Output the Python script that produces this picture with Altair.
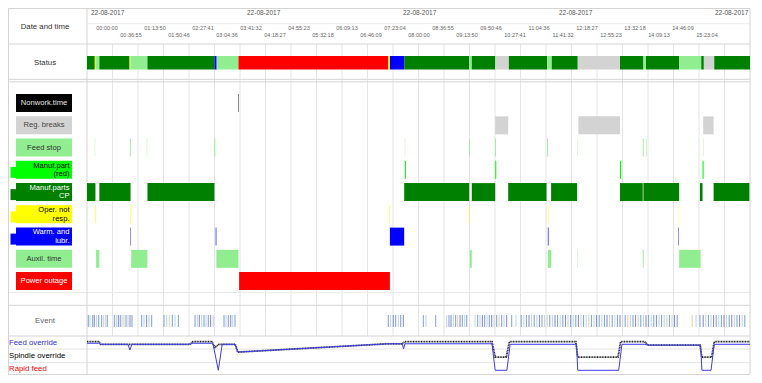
import altair as alt
import pandas as pd

# ---------------------------------------------------------------- data
ROWS = ["Nonwork.time", "Reg. breaks", "Feed stop", "Manuf.part (red)", "Manuf.parts CP",
        "Oper. not resp.", "Warm. and lubr.", "Auxil. time", "Power outage"]
ROW_TEXT = ["Nonwork.time", "Reg. breaks", "Feed stop", "Manuf.part\n(red)", "Manuf.parts\nCP",
            "Oper. not\nresp.", "Warm. and\nlubr.", "Auxil. time", "Power outage"]
ROW_COLORS = ["#000000", "#d3d3d3", "#90ee90", "#00ff00", "#008000",
              "#ffff00", "#0000ff", "#90ee90", "#ff0000"]
ROW_TEXT_COLORS = ["#e8e8e8", "#444444", "#333333", "#000000", "#ffffff",
                   "#000000", "#ffffff", "#333333", "#ffffff"]
ROW_RIGHT_ALIGNED = ["Manuf.part (red)", "Manuf.parts CP", "Oper. not resp.", "Warm. and lubr."]

DATE_TEXT = "22-08-2017"
DATE_TICKS = ["00:00:00", "04:00:00", "08:00:00", "12:00:00", "16:00:00"]
TIME_LABELS = ["00:00:00", "00:36:55", "01:13:50", "01:50:46", "02:27:41", "03:04:36",
               "03:41:32", "04:18:27", "04:55:23", "05:32:18", "06:09:13", "06:46:09",
               "07:23:04", "08:00:00", "08:36:55", "09:13:50", "09:50:46", "10:27:41",
               "11:04:36", "11:41:32", "12:18:27", "12:55:23", "13:32:18", "14:09:13",
               "14:46:09", "15:23:04"]
DAY_END = "17:00:00"

# status bar: segment start times and states (each segment ends where the next begins)
STATUS_START = ["00:00", "00:12", "00:13:30", "00:19", "01:05:30", "01:07", "01:33", "03:16",
                "03:19:30", "03:53", "07:43:30", "07:46", "08:08", "09:48", "09:52", "10:28",
                "10:29", "10:49", "11:48", "11:55", "12:35", "13:40", "14:16", "14:20",
                "15:11", "15:45", "15:49", "16:05"]
STATUS_STATE = ["Manuf.parts CP", "Oper. not resp.", "Auxil. time", "Manuf.parts CP",
                "Oper. not resp.", "Auxil. time", "Manuf.parts CP", "Warm. and lubr.",
                "Auxil. time", "Power outage", "Oper. not resp.", "Warm. and lubr.",
                "Manuf.parts CP", "Auxil. time", "Manuf.parts CP", "Feed stop",
                "Reg. breaks", "Manuf.parts CP", "Auxil. time", "Manuf.parts CP",
                "Reg. breaks", "Manuf.parts CP", "Auxil. time", "Manuf.parts CP",
                "Auxil. time", "Manuf.parts CP", "Reg. breaks", "Manuf.parts CP"]

NONWORK = [("03:52:40", "03:53:20")]
REG_BREAKS = [("10:28", "10:48"), ("12:36", "13:40"), ("15:48", "16:04")]
FEED_STOP = [("00:12:00", "00:12:30"), ("01:06:00", "01:07:20"), ("01:32:00", "01:32:30"),
             ("03:16:00", "03:17:20"), ("08:09:00", "08:09:30"), ("09:48:00", "09:49:20"),
             ("10:28:00", "10:29:20"), ("11:48:00", "11:49:20"), ("12:34:00", "12:34:30"),
             ("14:15:00", "14:16:20"), ("14:20:00", "14:20:40"), ("15:48:00", "15:48:30")]
MANUF_RED = [("08:09:00", "08:10:40"), ("10:28:00", "10:29:40"), ("13:40:00", "13:41:40"),
             ("15:47:00", "15:48:40")]
MANUF_CP = [("00:00", "00:13"), ("00:19", "01:07"), ("01:33", "03:16"), ("08:08", "09:48"),
            ("09:52", "10:28"), ("10:48", "11:47"), ("11:54", "12:34"), ("13:40", "14:15"),
            ("14:16", "15:11"), ("15:43", "15:47"), ("16:04", "16:59")]
OPER = [("00:13:00", "00:13:50"), ("01:07:00", "01:07:50"), ("07:45:00", "07:45:50"),
        ("09:48:00", "09:48:50"), ("11:49:00", "11:49:50"), ("15:10:00", "15:10:30")]
WARM = [("01:07:00", "01:07:40"), ("03:18:00", "03:19:00"), ("07:46", "08:08"),
        ("11:49:00", "11:50:00"), ("15:10:00", "15:10:40")]
AUXIL = [("00:14", "00:19"), ("01:08", "01:33"), ("03:19", "03:53"), ("09:49", "09:52"),
         ("11:49", "11:54"), ("12:34:00", "12:34:30"), ("14:15:00", "14:16:20"), ("15:11", "15:44")]
POWER = [("03:54", "07:46")]
GANTT = [NONWORK, REG_BREAKS, FEED_STOP, MANUF_RED, MANUF_CP, OPER, WARM, AUXIL, POWER]

# events: (minutes after 00:00, event type)
EVENTS = [
    (2.0, "A"), (4.6, "B"), (8.8, "A"), (11.2, "C"), (14.9, "B"), (18.0, "A"),
    (22.6, "A"), (25.7, "B"), (28.8, "D"), (31.2, "A"),
    (42.0, "A"), (45.1, "B"), (48.2, "C"), (51.2, "A"), (53.8, "B"), (56.9, "D"),
    (60.0, "A"), (63.1, "B"), (66.2, "C"), (69.2, "A"),
    (84.2, "A"), (87.7, "B"), (91.8, "C"), (95.4, "B"), (99.5, "A"),
    (118.5, "A"), (122.6, "B"), (126.6, "D"), (131.2, "A"), (135.4, "B"), (140.5, "A"),
    (166.2, "A"), (169.7, "B"), (172.8, "C"), (176.5, "B"), (180.0, "A"), (183.1, "B"),
    (186.6, "A"), (190.3, "C"), (194.3, "B"),
    (210.8, "A"), (213.8, "B"), (217.4, "A"), (221.1, "C"), (224.2, "B"), (227.7, "A"),
    (463.5, "A"), (467.2, "B"), (471.2, "C"), (474.9, "A"), (478.9, "B"), (482.6, "A"),
    (486.6, "C"),
    (517.4, "A"), (521.5, "B"), (536.5, "A"),
    (553.4, "B"), (556.9, "A"), (560.0, "C"), (563.5, "B"), (567.2, "A"), (570.3, "D"),
    (573.9, "C"), (577.4, "A"), (581.1, "B"), (584.2, "A"),
    (596.9, "B"), (601.1, "A"), (604.6, "B"), (608.2, "C"), (611.8, "A"), (615.4, "B"),
    (618.9, "A"), (622.6, "C"), (626.2, "B"), (630.3, "A"), (633.9, "D"), (638.0, "A"),
    (641.5, "B"), (645.7, "C"),
    (653.4, "A"), (660.0, "B"), (668.0, "A"),
    (672.0, "B"), (676.0, "A"), (680.0, "C"), (684.0, "B"), (688.0, "A"), (692.0, "B"),
    (696.0, "C"), (700.0, "A"), (704.0, "B"), (708.0, "D"), (712.0, "A"), (716.0, "B"),
    (720.0, "C"), (724.0, "A"), (728.0, "B"), (732.0, "A"), (736.0, "C"), (740.0, "B"),
    (744.0, "A"), (748.0, "B"), (752.0, "A"), (756.0, "C"), (760.0, "B"), (764.0, "A"),
    (768.0, "B"), (772.0, "D"), (776.0, "A"), (780.0, "B"), (784.0, "C"), (788.0, "A"),
    (792.0, "B"), (796.0, "A"), (800.0, "C"), (804.0, "B"), (808.0, "A"), (812.0, "B"),
    (816.0, "A"), (820.0, "C"), (824.0, "B"), (828.0, "A"), (832.0, "D"), (836.0, "B"),
    (840.0, "A"), (844.0, "C"), (848.0, "B"), (852.0, "A"), (856.0, "B"), (860.0, "C"),
    (864.0, "A"), (868.0, "B"), (872.0, "A"), (876.0, "C"), (880.0, "B"), (884.0, "A"),
    (888.0, "B"), (892.0, "D"), (896.0, "A"), (900.0, "B"), (904.0, "C"), (908.0, "A"),
    (931.0, "D"), (937.0, "B"), (943.0, "A"), (948.0, "C"), (952.0, "B"), (956.0, "A"),
    (960.0, "B"), (964.0, "C"), (968.0, "A"), (972.0, "B"), (976.0, "A"), (980.0, "C"),
    (984.0, "B"), (988.0, "A"), (992.0, "C"), (996.0, "B"), (1000.0, "A"), (1004.0, "C"),
    (1008.0, "B"), (1012.0, "A"),
]
EVENT_TYPES = ["A", "B", "C", "D"]
EVENT_COLORS = ["#7aa0d6", "#bcd2ec", "#8585c6", "#ddd1a0"]

# override curves: (time, percent)
SPINDLE = [("00:00", 110), ("00:18", 110), ("00:21", 100), ("02:38", 100), ("02:43", 110),
           ("03:12", 110), ("03:17", 88), ("03:23", 100), ("03:48", 100), ("03:52", 70),
           ("07:43", 102), ("08:05", 102), ("08:09", 110), ("10:23", 110), ("10:28", 51),
           ("10:45", 51), ("10:50", 110), ("12:32", 110), ("12:35", 51), ("13:37", 51),
           ("13:41", 110), ("14:18", 110), ("14:23", 97), ("15:43", 97), ("15:46", 51),
           ("16:01", 51), ("16:05", 110), ("17:00", 110)]
FEED = [("00:00", 104), ("00:18", 104), ("00:21", 100), ("01:03", 100), ("01:06", 78),
        ("01:09", 100), ("02:38", 100), ("02:43", 104), ("03:12", 104), ("03:14", 100),
        ("03:22", 0), ("03:28", 100), ("03:48", 100), ("03:52", 70), ("07:43", 102),
        ("08:05", 102), ("08:07", 82), ("08:09", 102), ("10:23", 102), ("10:28", 0),
        ("10:46", 0), ("10:51", 100), ("12:33", 100), ("12:35", 0), ("13:38", 0),
        ("13:43", 100), ("14:18", 100), ("14:23", 97), ("15:44", 97), ("15:46", 0),
        ("16:00", 0), ("16:05", 100), ("17:00", 100)]
OVERRIDE_LABELS = ["Feed override", "Spindle override", "Rapid feed"]
OVERRIDE_COLORS = ["#3030e0", "#000000", "#ff0000"]


# ---------------------------------------------------------------- helpers
def sec(s):
    p = [int(v) for v in s.split(":")]
    while len(p) < 3:
        p.append(0)
    return p[0] * 3600 + p[1] * 60 + p[2]


W, H = 746, 367
X0, X1 = 79.0, 742.0            # plot area (canvas px) for 00:00 .. 17:00
T_END = sec(DAY_END)
spp = T_END / (X1 - X0)
XS = alt.Scale(domain=[-X0 * spp, T_END + (W - X1) * spp], range=[0, W], nice=False, zero=False)

STEP = 22.25
PI = 4.25 / STEP
A0 = 86.1 - STEP * PI / 2
YS = alt.Scale(type="band", domain=ROWS, range=[A0, A0 + 9 * STEP], paddingInner=PI, paddingOuter=PI / 2)
PT = 11.25 / STEP
AT = 92.1 - STEP * PT / 2
YT = alt.Scale(type="band", domain=ROWS, range=[AT, AT + 9 * STEP], paddingInner=PT, paddingOuter=PT / 2)
ROW_COLOR = alt.Color("row:N", scale=alt.Scale(domain=ROWS, range=ROW_COLORS), legend=None)
FONT = "Liberation Sans"
one = pd.DataFrame({"a": [0]})
GRID = "#e4e4e4"
LINE = "#d4d4d4"


def X(field="t"):
    return alt.X(f"{field}:Q", scale=XS, axis=None)


def hline(y, x1=0.5, x2=X1, color=LINE, w=1.0):
    return alt.Chart(one).mark_rule(color=color, strokeWidth=w).encode(
        x=alt.value(x1), x2=alt.value(x2), y=alt.value(y))


def vline(x, y1, y2, color=LINE, w=1.0):
    return alt.Chart(one).mark_rule(color=color, strokeWidth=w).encode(
        x=alt.value(x), y=alt.value(y1), y2=alt.value(y2))


def label(text, x, y, size=7.5, color="#333333", align="center"):
    return alt.Chart(one).mark_text(text=text, fontSize=size, color=color, align=align,
                                    baseline="middle", font=FONT).encode(
        x=alt.value(x), y=alt.value(y))


layers = []

# grid
grid_df = pd.DataFrame({"t": [k * T_END / 26 for k in range(1, 26)]})
layers.append(alt.Chart(grid_df).mark_rule(color=GRID, strokeWidth=1).encode(
    x=X(), y=alt.value(36), y2=alt.value(328)))

# frame + separators
for y, x1, c in [(0.5, 0.5, LINE), (36, 0.5, LINE), (71.3, 0.5, LINE), (73.8, 0.5, LINE),
                 (284.5, 0.5, "#e8e8e8"), (297.3, 0.5, LINE), (328, 0.5, LINE),
                 (341, 0.5, "#e4e4e4"), (354.7, 0.5, "#e4e4e4"), (366.5, 0.5, LINE)]:
    layers.append(hline(y, x1, X1, c))
layers.append(hline(15.7, X0, X1, "#ececec"))
layers.append(vline(0.5, 0.5, 366.5))
layers.append(vline(X0, 0.5, 366.5))
layers.append(vline(X1, 0.5, 366.5))

# header texts
date_df = pd.DataFrame({"t": [sec(s) for s in DATE_TICKS], "lab": [DATE_TEXT] * len(DATE_TICKS)})
layers.append(alt.Chart(date_df).mark_text(align="left", dx=4, fontSize=6.5, color="#555555",
                                           baseline="middle", font=FONT).encode(
    x=X(), y=alt.value(4.8), text="lab:N"))
tl_df = pd.DataFrame({"t": [sec(s) for s in TIME_LABELS], "lab": TIME_LABELS,
                      "lvl": ["up" if i % 2 == 0 else "down" for i in range(len(TIME_LABELS))]})
layers.append(alt.Chart(tl_df).mark_text(dx=20, fontSize=5.5, color="#666666",
                                         baseline="middle", font=FONT).encode(
    x=X(), text="lab:N",
    y=alt.Y("lvl:N", scale=alt.Scale(type="point", domain=["up", "down"], range=[19.8, 27.0], padding=0),
            axis=None)))
layers.append(label("Date and time", 37, 18.5, 7.8, "#333333"))
layers.append(label("Status", 37, 54.5, 7.8, "#333333"))
layers.append(label("Event", 37, 313, 7.8, "#666666"))

# status bar
st_start = [sec(s) for s in STATUS_START]
st_end = st_start[1:] + [T_END]
st_df = pd.DataFrame({"s": st_start, "e": st_end, "row": STATUS_STATE})
layers.append(alt.Chart(st_df).mark_rect().encode(
    x=X("s"), x2="e:Q", y=alt.value(48), y2=alt.value(61.5), color=ROW_COLOR))

# row label boxes
box_df = pd.DataFrame({"row": ROWS, "txt": ROW_TEXT, "tc": ROW_TEXT_COLORS})
tab_df = box_df[box_df.row.isin(ROW_RIGHT_ALIGNED)]
layers.append(alt.Chart(tab_df).mark_rect().encode(
    x=alt.value(2.5), x2=alt.value(9), y=alt.Y("row:N", scale=YT, axis=None), color=ROW_COLOR))
layers.append(alt.Chart(box_df).mark_rect().encode(
    x=alt.value(8), x2=alt.value(64), y=alt.Y("row:N", scale=YS, axis=None), color=ROW_COLOR))
txt_color = alt.Color("tc:N", scale=None)
layers.append(alt.Chart(box_df[~box_df.row.isin(ROW_RIGHT_ALIGNED)]).mark_text(
    fontSize=7.6, baseline="middle", font=FONT).encode(
    x=alt.value(36), y=alt.Y("row:N", scale=YS, axis=None), text="txt:N", color=txt_color))
layers.append(alt.Chart(box_df[box_df.row.isin(ROW_RIGHT_ALIGNED)]).mark_text(
    fontSize=7.6, baseline="middle", align="right", lineBreak="\n", lineHeight=8.4, dy=-4.2,
    font=FONT).encode(
    x=alt.value(61.5), y=alt.Y("row:N", scale=YS, axis=None), text="txt:N", color=txt_color))

# gantt bars
recs = []
for row, segs in zip(ROWS, GANTT):
    for a, b in segs:
        recs.append({"row": row, "s": sec(a), "e": sec(b)})
g_df = pd.DataFrame(recs)
layers.append(alt.Chart(g_df).mark_rect().encode(
    x=X("s"), x2="e:Q", y=alt.Y("row:N", scale=YS, axis=None), color=ROW_COLOR))

# events
ev_df = pd.DataFrame({"t": [m * 60 for m, _ in EVENTS], "typ": [k for _, k in EVENTS]})
layers.append(alt.Chart(ev_df).mark_rule(strokeWidth=1).encode(
    x=X(), y=alt.value(307), y2=alt.value(319),
    color=alt.Color("typ:N", scale=alt.Scale(domain=EVENT_TYPES, range=EVENT_COLORS), legend=None)))

# overrides
OVS = alt.Scale(domain=[0, 110], range=[362.3, 333.7], nice=False, zero=False)
fd = pd.DataFrame({"t": [sec(a) for a, _ in FEED], "v": [v for _, v in FEED]})
sp = pd.DataFrame({"t": [sec(a) for a, _ in SPINDLE], "v": [v for _, v in SPINDLE]})
layers.append(alt.Chart(sp).mark_line(color="#222222", strokeWidth=1.8, strokeDash=[1, 0.6]).encode(
    x=X(), y=alt.Y("v:Q", scale=OVS, axis=None)))
layers.append(alt.Chart(fd).mark_line(color="#3b3bf0", strokeWidth=1).encode(
    x=X(), y=alt.Y("v:Q", scale=OVS, axis=None)))
for lab, col, y in zip(OVERRIDE_LABELS, OVERRIDE_COLORS, [335, 348, 361]):
    layers.append(label(lab, 1, y, 7.8, col, "left"))

chart = alt.layer(*layers).resolve_scale(y="independent", color="independent").properties(
    width=W, height=H, autosize=alt.AutoSizeParams(type="none"), padding=0
).configure_view(stroke=None)

chart.save("out.html", embed_options={"renderer": "svg", "actions": False})
